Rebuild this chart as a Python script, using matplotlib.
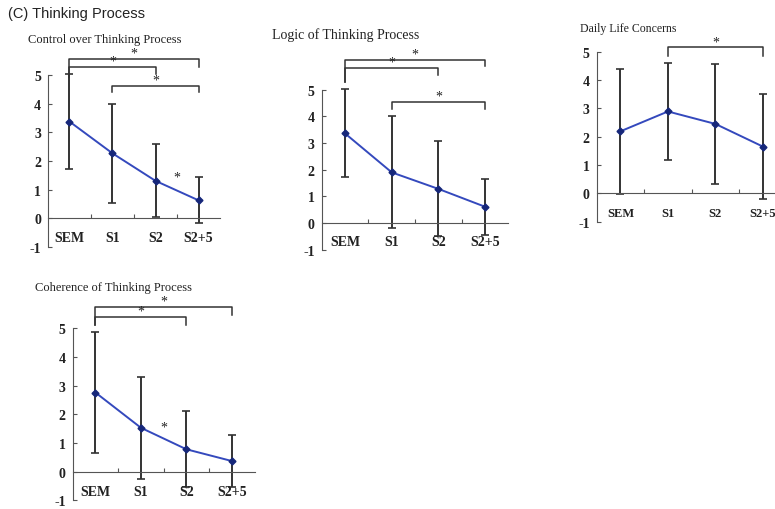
import matplotlib.pyplot as plt

groups = ['SEM', 'S1', 'S2', 'S2+5']

ctrl_mean = [3.38, 2.27, 1.31, 0.63]
ctrl_err = [1.65, 1.74, 1.27, 0.80]
logic_mean = [3.36, 1.90, 1.28, 0.61]
logic_err = [1.65, 2.10, 1.78, 1.05]
daily_mean = [2.19, 2.89, 2.45, 1.65]
daily_err = [2.20, 1.70, 2.11, 1.86]
coher_mean = [2.76, 1.53, 0.78, 0.37]
coher_err = [2.10, 1.77, 1.33, 0.90]

# significance brackets: (from group, to group, height, left end, right end)
ctrl_brackets = [(0, 3, 5.55, 4.95, 5.30), (0, 2, 5.29, 4.95, 5.03), (1, 3, 4.63, 4.40, 4.40)]
logic_brackets = [(0, 3, 6.12, 5.28, 5.90), (0, 2, 5.80, 5.28, 5.57), (1, 3, 4.55, 4.28, 4.28)]
daily_brackets = [(1, 3, 5.15, 4.86, 4.86)]
coher_brackets = [(0, 3, 5.73, 5.10, 5.47), (0, 2, 5.40, 5.10, 5.12)]
# lone stars between groups: (boundary position, height)
ctrl_stars = [(3.0, 1.44)]
coher_stars = [(2.0, 1.55)]

serif = ['Liberation Serif', 'DejaVu Serif']
line_c = '#3449bd'
mark_c = '#16277a'
err_c = '#333333'

fig = plt.figure(figsize=(7.75, 5.1), dpi=100)


def panel(rect, title, tpos, tsize, mean, err, brackets, stars=(), xsize=10):
    ax = fig.add_axes(rect)
    x = [i + 0.5 for i in range(len(groups))]
    ax.errorbar(x, mean, yerr=err, fmt='none', ecolor=err_c, elinewidth=1.4,
                capsize=3, capthick=1.2, clip_on=False, zorder=2)
    ax.plot(x, mean, color=line_c, lw=1.4, marker='D', ms=3.5,
            mfc=mark_c, mec=mark_c, zorder=3, clip_on=False)
    for i, j, h, l, r in brackets:
        ax.plot([x[i], x[i], x[j], x[j]], [l, h, h, r], color='#333333',
                lw=1.1, clip_on=False)
        ax.text((x[i] + x[j]) / 2, h - 0.02, '*', ha='center', va='bottom',
                fontsize=10, family=serif, color='#222222')
    for sx, sy in stars:
        ax.text(sx, sy, '*', ha='center', va='center', fontsize=10,
                family=serif, color='#222222')
    ax.set_xlim(0, 4)
    ax.set_ylim(-1, 5)
    ax.spines[['top', 'right']].set_visible(False)
    ax.spines['bottom'].set_position(('data', 0))
    ax.spines['left'].set_color('#555555')
    ax.spines['bottom'].set_color('#555555')
    ax.set_xticks([1, 2, 3])
    ax.set_xticklabels([])
    ax.set_yticks(range(-1, 6))
    ax.set_yticklabels([str(v) for v in range(-1, 6)], family=serif,
                       fontsize=10, fontweight='bold', color='#222222')
    ax.tick_params(direction='in', length=3, color='#555555', pad=5)
    for xi, g in zip(x, groups):
        ax.text(xi, -0.68, g, ha='center', va='center', family=serif,
                fontsize=xsize, fontweight='bold', color='#222222')
    ax.patch.set_alpha(0)
    fig.text(tpos[0] / 775, 1 - tpos[1] / 510, title, ha='left', va='center',
             family=serif, fontsize=tsize, color='#222222')
    return ax


panel([0.0619, 0.5137, 0.222, 0.337], 'Control over Thinking Process',
      (28, 40), 9, ctrl_mean, ctrl_err, ctrl_brackets, ctrl_stars)
panel([0.4151, 0.5084, 0.241, 0.3137], 'Logic of Thinking Process',
      (272, 35), 10, logic_mean, logic_err, logic_brackets)
panel([0.770, 0.5635, 0.245, 0.3331], 'Daily Life Concerns',
      (580, 29), 8.5, daily_mean, daily_err, daily_brackets, xsize=9)
panel([0.0938, 0.017, 0.2348, 0.3373], 'Coherence of Thinking Process',
      (35, 288), 9, coher_mean, coher_err, coher_brackets, coher_stars)

fig.text(8 / 775, 1 - 14 / 510, '(C) Thinking Process', ha='left', va='center',
         family=['Liberation Sans', 'DejaVu Sans'], fontsize=10.5, color='#222222')

fig.savefig('out.png', dpi=100)
